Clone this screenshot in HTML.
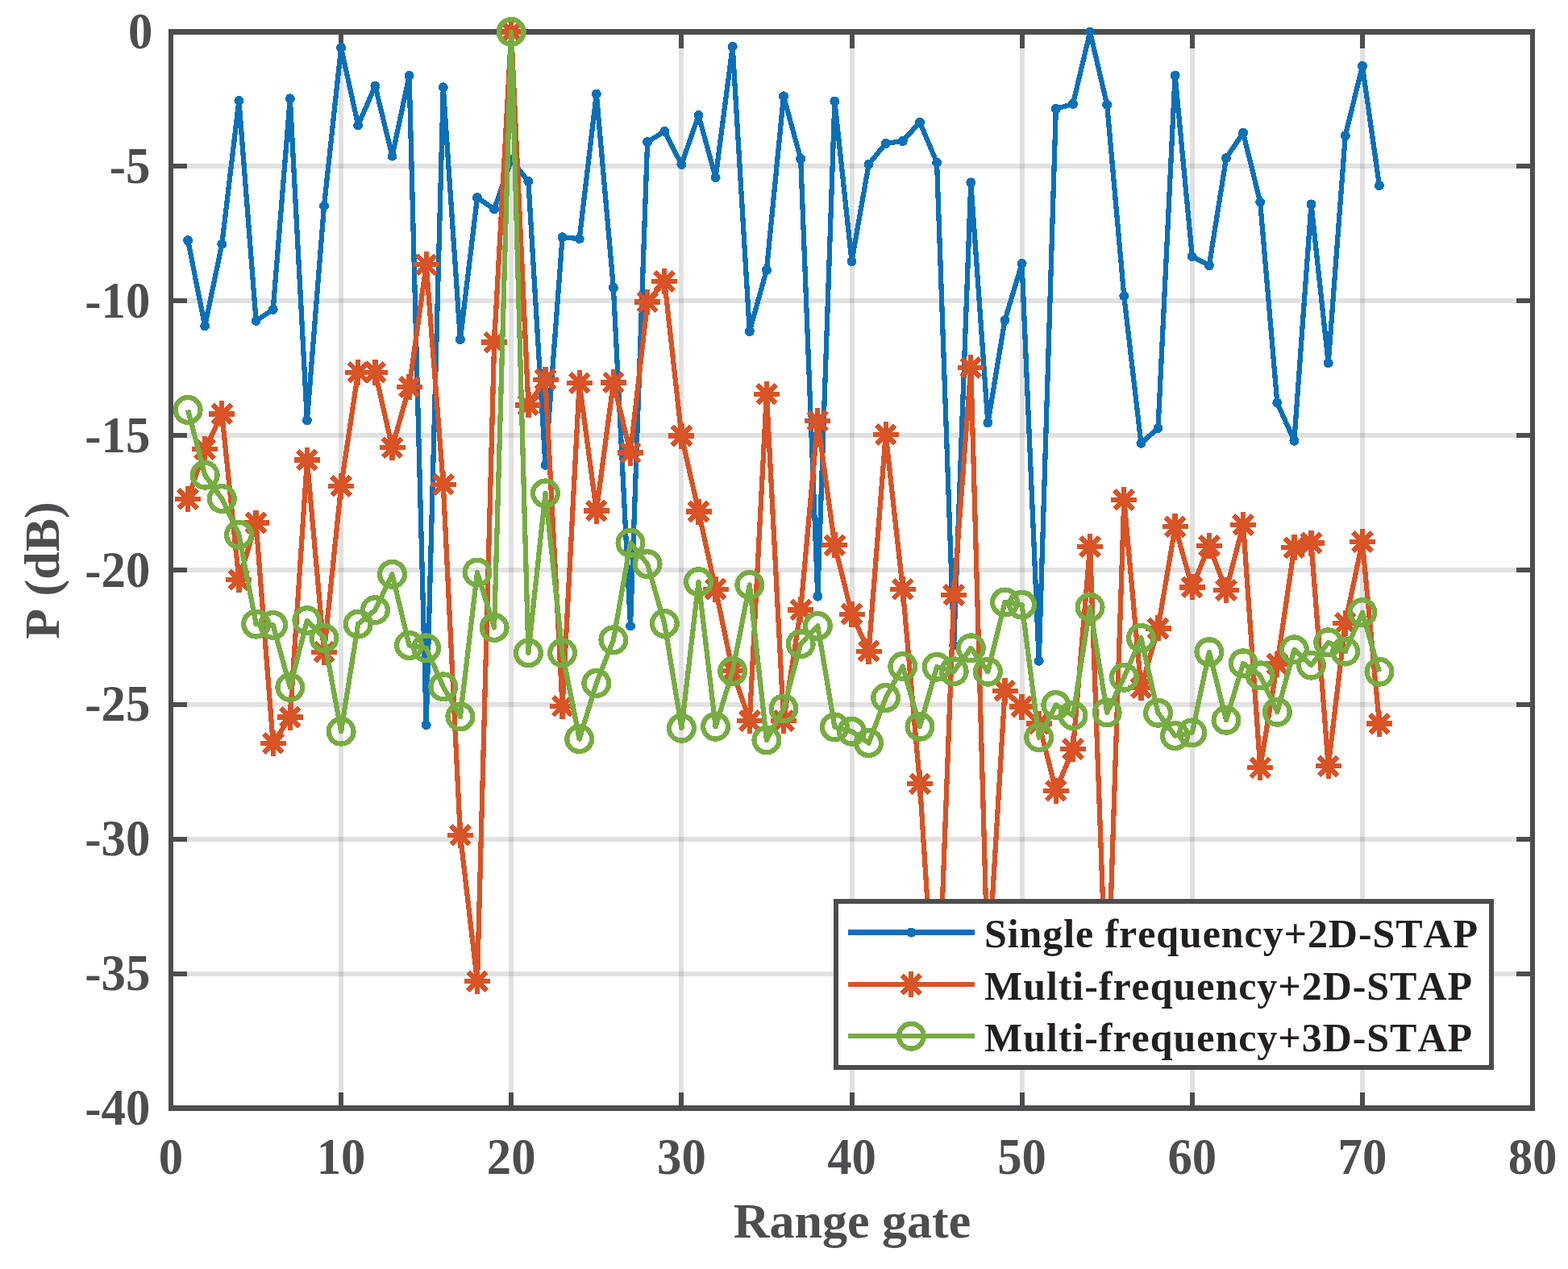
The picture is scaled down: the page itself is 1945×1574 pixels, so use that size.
<!DOCTYPE html>
<html lang="en">
<head>
<meta charset="utf-8">
<title>P (dB) versus Range gate</title>
<style>
html,body{margin:0;padding:0;background:#fff;}
body{width:1945px;height:1574px;overflow:hidden;}
svg{display:block;}
text{font-family:"Liberation Serif",serif;font-weight:bold;font-kerning:none;}
.tick{font-size:62px;fill:#4d4d4f;}
.lab{font-size:62px;fill:#4d4d4f;}
.leg{font-size:50px;fill:#231f20;}
</style>
</head>
<body>
<svg width="1945" height="1574" viewBox="0 0 1945 1574" shape-rendering="crispEdges">
<defs>
<clipPath id="clip"><rect x="212" y="36.5" width="1689" height="1338"/></clipPath>
</defs>
<rect width="1945" height="1574" fill="#fff"/>
<g fill="none" stroke="#4d4d4f" stroke-opacity="0.17" stroke-width="6">
<path d="M423.1 39.5 V1374.5"/>
<path d="M634.2 39.5 V1374.5"/>
<path d="M845.4 39.5 V1374.5"/>
<path d="M1056.5 39.5 V1374.5"/>
<path d="M1267.6 39.5 V1374.5"/>
<path d="M1478.8 39.5 V1374.5"/>
<path d="M1689.9 39.5 V1374.5"/>
<path d="M212 206.4 H1901"/>
<path d="M212 373.2 H1901"/>
<path d="M212 540.1 H1901"/>
<path d="M212 707 H1901"/>
<path d="M212 873.9 H1901"/>
<path d="M212 1040.8 H1901"/>
<path d="M212 1207.6 H1901"/>
</g>
<path d="M423.1 1374.5 v-20 M423.1 39.5 v20 M634.2 1374.5 v-20 M634.2 39.5 v20 M845.4 1374.5 v-20 M845.4 39.5 v20 M1056.5 1374.5 v-20 M1056.5 39.5 v20 M1267.6 1374.5 v-20 M1267.6 39.5 v20 M1478.8 1374.5 v-20 M1478.8 39.5 v20 M1689.9 1374.5 v-20 M1689.9 39.5 v20 M212 206.4 h20 M1901 206.4 h-20 M212 373.2 h20 M1901 373.2 h-20 M212 540.1 h20 M1901 540.1 h-20 M212 707 h20 M1901 707 h-20 M212 873.9 h20 M1901 873.9 h-20 M212 1040.8 h20 M1901 1040.8 h-20 M212 1207.6 h20 M1901 1207.6 h-20" fill="none" stroke="#4d4d4f" stroke-width="6"/>
<path fill="#4d4d4f" fill-rule="evenodd" d="M209 36H1904V1378H209Z M215 43H1898V1371H215Z"/>
<polyline points="233.1,298.2 254.2,404.3 275.3,302.8 296.4,124.9 317.6,397.9 338.7,383.9 359.8,122.3 380.9,521.4 402,255.4 423.1,59.2 444.2,155.3 465.4,106.6 486.5,193.7 507.6,93.9 528.7,899.2 549.8,108.3 570.9,421 592,245.1 613.1,259.4 634.2,198 655.4,225.1 676.5,576.8 697.6,294.2 718.7,296.2 739.8,116.6 760.9,356.9 782,776.4 803.1,176 824.3,163 845.4,204 866.5,143 887.6,220.1 908.7,57.9 929.8,411 950.9,334.9 972,119.3 993.2,197 1014.3,739.7 1035.4,125.6 1056.5,324.2 1077.6,203.7 1098.7,178 1119.8,175 1141,151.6 1162.1,201.7 1183.2,800.5 1204.3,226.4 1225.4,524.4 1246.5,397.3 1267.6,326.9 1288.7,819.8 1309.8,135 1331,128.9 1352.1,39.5 1373.2,129.9 1394.3,367.2 1415.4,549.8 1436.5,531.1 1457.6,93.6 1478.8,318.2 1499.9,329.2 1521,196 1542.1,164.7 1563.2,250.8 1584.3,499.7 1605.4,546.8 1626.5,253.4 1647.7,450.3 1668.8,168.3 1689.9,81.9 1711,230.1" fill="none" stroke="#0b70b8" stroke-width="6.25" stroke-linejoin="round" stroke-linecap="butt" clip-path="url(#clip)"/>
<g fill="#0b70b8"><circle cx="233.1" cy="298.2" r="6"/><circle cx="254.2" cy="404.3" r="6"/><circle cx="275.3" cy="302.8" r="6"/><circle cx="296.4" cy="124.9" r="6"/><circle cx="317.6" cy="397.9" r="6"/><circle cx="338.7" cy="383.9" r="6"/><circle cx="359.8" cy="122.3" r="6"/><circle cx="380.9" cy="521.4" r="6"/><circle cx="402" cy="255.4" r="6"/><circle cx="423.1" cy="59.2" r="6"/><circle cx="444.2" cy="155.3" r="6"/><circle cx="465.4" cy="106.6" r="6"/><circle cx="486.5" cy="193.7" r="6"/><circle cx="507.6" cy="93.9" r="6"/><circle cx="528.7" cy="899.2" r="6"/><circle cx="549.8" cy="108.3" r="6"/><circle cx="570.9" cy="421" r="6"/><circle cx="592" cy="245.1" r="6"/><circle cx="613.1" cy="259.4" r="6"/><circle cx="634.2" cy="198" r="6"/><circle cx="655.4" cy="225.1" r="6"/><circle cx="676.5" cy="576.8" r="6"/><circle cx="697.6" cy="294.2" r="6"/><circle cx="718.7" cy="296.2" r="6"/><circle cx="739.8" cy="116.6" r="6"/><circle cx="760.9" cy="356.9" r="6"/><circle cx="782" cy="776.4" r="6"/><circle cx="803.1" cy="176" r="6"/><circle cx="824.3" cy="163" r="6"/><circle cx="845.4" cy="204" r="6"/><circle cx="866.5" cy="143" r="6"/><circle cx="887.6" cy="220.1" r="6"/><circle cx="908.7" cy="57.9" r="6"/><circle cx="929.8" cy="411" r="6"/><circle cx="950.9" cy="334.9" r="6"/><circle cx="972" cy="119.3" r="6"/><circle cx="993.2" cy="197" r="6"/><circle cx="1014.3" cy="739.7" r="6"/><circle cx="1035.4" cy="125.6" r="6"/><circle cx="1056.5" cy="324.2" r="6"/><circle cx="1077.6" cy="203.7" r="6"/><circle cx="1098.7" cy="178" r="6"/><circle cx="1119.8" cy="175" r="6"/><circle cx="1141" cy="151.6" r="6"/><circle cx="1162.1" cy="201.7" r="6"/><circle cx="1183.2" cy="800.5" r="6"/><circle cx="1204.3" cy="226.4" r="6"/><circle cx="1225.4" cy="524.4" r="6"/><circle cx="1246.5" cy="397.3" r="6"/><circle cx="1267.6" cy="326.9" r="6"/><circle cx="1288.7" cy="819.8" r="6"/><circle cx="1309.8" cy="135" r="6"/><circle cx="1331" cy="128.9" r="6"/><circle cx="1352.1" cy="39.5" r="6"/><circle cx="1373.2" cy="129.9" r="6"/><circle cx="1394.3" cy="367.2" r="6"/><circle cx="1415.4" cy="549.8" r="6"/><circle cx="1436.5" cy="531.1" r="6"/><circle cx="1457.6" cy="93.6" r="6"/><circle cx="1478.8" cy="318.2" r="6"/><circle cx="1499.9" cy="329.2" r="6"/><circle cx="1521" cy="196" r="6"/><circle cx="1542.1" cy="164.7" r="6"/><circle cx="1563.2" cy="250.8" r="6"/><circle cx="1584.3" cy="499.7" r="6"/><circle cx="1605.4" cy="546.8" r="6"/><circle cx="1626.5" cy="253.4" r="6"/><circle cx="1647.7" cy="450.3" r="6"/><circle cx="1668.8" cy="168.3" r="6"/><circle cx="1689.9" cy="81.9" r="6"/><circle cx="1711" cy="230.1" r="6"/></g>
<polyline points="233.1,618.9 254.2,557.1 275.3,513.4 296.4,719 317.6,648.6 338.7,921.9 359.8,889.6 380.9,570.5 402,808.8 423.1,602.9 444.2,461.7 465.4,461.7 486.5,555.1 507.6,480.1 528.7,328.2 549.8,600.9 570.9,1035.7 592,1217.3 613.1,424.6 634.2,39.5 655.4,502.4 676.5,470.7 697.6,875.9 718.7,475 739.8,633.6 760.9,474.4 782,561.5 803.1,374.6 824.3,348.9 845.4,540.5 866.5,634.6 887.6,730.7 908.7,832.2 929.8,893.9 950.9,488.7 972,893.9 993.2,756.4 1014.3,522.1 1035.4,676.3 1056.5,761.7 1077.6,807.8 1098.7,539.1 1119.8,730.7 1141,972.3 1162.1,1301.1 1183.2,738 1204.3,456 1225.4,1207.6 1246.5,856.9 1267.6,876.5 1288.7,897.6 1309.8,980.7 1331,928.9 1352.1,678 1373.2,1261 1394.3,619.9 1415.4,853.2 1436.5,779.4 1457.6,653.3 1478.8,728.4 1499.9,677 1521,732 1542.1,650.9 1563.2,952.3 1584.3,823.5 1605.4,679.3 1626.5,673.6 1647.7,950.3 1668.8,772.7 1689.9,672 1711,897.6" fill="none" stroke="#d85325" stroke-width="6.25" stroke-linejoin="round" stroke-linecap="butt" clip-path="url(#clip)"/>
<path d="M217.1 618.9h32 M233.1 602.9v32 M221.5 607.3l23.2 23.2 M221.5 630.5l23.2 -23.2 M238.2 557.1h32 M254.2 541.1v32 M242.6 545.5l23.2 23.2 M242.6 568.7l23.2 -23.2 M259.3 513.4h32 M275.3 497.4v32 M263.7 501.8l23.2 23.2 M263.7 525l23.2 -23.2 M280.4 719h32 M296.4 703v32 M284.8 707.4l23.2 23.2 M284.8 730.6l23.2 -23.2 M301.6 648.6h32 M317.6 632.6v32 M306 637l23.2 23.2 M306 660.2l23.2 -23.2 M322.7 921.9h32 M338.7 905.9v32 M327.1 910.3l23.2 23.2 M327.1 933.5l23.2 -23.2 M343.8 889.6h32 M359.8 873.6v32 M348.2 878l23.2 23.2 M348.2 901.2l23.2 -23.2 M364.9 570.5h32 M380.9 554.5v32 M369.3 558.9l23.2 23.2 M369.3 582.1l23.2 -23.2 M386 808.8h32 M402 792.8v32 M390.4 797.2l23.2 23.2 M390.4 820.4l23.2 -23.2 M407.1 602.9h32 M423.1 586.9v32 M411.5 591.3l23.2 23.2 M411.5 614.5l23.2 -23.2 M428.2 461.7h32 M444.2 445.7v32 M432.6 450.1l23.2 23.2 M432.6 473.3l23.2 -23.2 M449.4 461.7h32 M465.4 445.7v32 M453.8 450.1l23.2 23.2 M453.8 473.3l23.2 -23.2 M470.5 555.1h32 M486.5 539.1v32 M474.9 543.5l23.2 23.2 M474.9 566.7l23.2 -23.2 M491.6 480.1h32 M507.6 464.1v32 M496 468.4l23.2 23.2 M496 491.7l23.2 -23.2 M512.7 328.2h32 M528.7 312.2v32 M517.1 316.6l23.2 23.2 M517.1 339.8l23.2 -23.2 M533.8 600.9h32 M549.8 584.9v32 M538.2 589.3l23.2 23.2 M538.2 612.5l23.2 -23.2 M554.9 1035.7h32 M570.9 1019.7v32 M559.3 1024.1l23.2 23.2 M559.3 1047.3l23.2 -23.2 M576 1217.3h32 M592 1201.3v32 M580.4 1205.7l23.2 23.2 M580.4 1228.9l23.2 -23.2 M597.1 424.6h32 M613.1 408.6v32 M601.5 413l23.2 23.2 M601.5 436.2l23.2 -23.2 M618.2 39.5h32 M634.2 23.5v32 M622.6 27.9l23.2 23.2 M622.6 51.1l23.2 -23.2 M639.4 502.4h32 M655.4 486.4v32 M643.8 490.8l23.2 23.2 M643.8 514l23.2 -23.2 M660.5 470.7h32 M676.5 454.7v32 M664.9 459.1l23.2 23.2 M664.9 482.3l23.2 -23.2 M681.6 875.9h32 M697.6 859.9v32 M686 864.3l23.2 23.2 M686 887.5l23.2 -23.2 M702.7 475h32 M718.7 459v32 M707.1 463.4l23.2 23.2 M707.1 486.6l23.2 -23.2 M723.8 633.6h32 M739.8 617.6v32 M728.2 622l23.2 23.2 M728.2 645.2l23.2 -23.2 M744.9 474.4h32 M760.9 458.4v32 M749.3 462.8l23.2 23.2 M749.3 486l23.2 -23.2 M766 561.5h32 M782 545.5v32 M770.4 549.9l23.2 23.2 M770.4 573.1l23.2 -23.2 M787.1 374.6h32 M803.1 358.6v32 M791.5 363l23.2 23.2 M791.5 386.2l23.2 -23.2 M808.3 348.9h32 M824.3 332.9v32 M812.7 337.3l23.2 23.2 M812.7 360.5l23.2 -23.2 M829.4 540.5h32 M845.4 524.5v32 M833.8 528.9l23.2 23.2 M833.8 552.1l23.2 -23.2 M850.5 634.6h32 M866.5 618.6v32 M854.9 623l23.2 23.2 M854.9 646.2l23.2 -23.2 M871.6 730.7h32 M887.6 714.7v32 M876 719.1l23.2 23.2 M876 742.3l23.2 -23.2 M892.7 832.2h32 M908.7 816.2v32 M897.1 820.6l23.2 23.2 M897.1 843.8l23.2 -23.2 M913.8 893.9h32 M929.8 877.9v32 M918.2 882.3l23.2 23.2 M918.2 905.5l23.2 -23.2 M934.9 488.7h32 M950.9 472.7v32 M939.3 477.1l23.2 23.2 M939.3 500.3l23.2 -23.2 M956 893.9h32 M972 877.9v32 M960.4 882.3l23.2 23.2 M960.4 905.5l23.2 -23.2 M977.2 756.4h32 M993.2 740.4v32 M981.6 744.8l23.2 23.2 M981.6 768l23.2 -23.2 M998.3 522.1h32 M1014.3 506.1v32 M1002.7 510.5l23.2 23.2 M1002.7 533.7l23.2 -23.2 M1019.4 676.3h32 M1035.4 660.3v32 M1023.8 664.7l23.2 23.2 M1023.8 687.9l23.2 -23.2 M1040.5 761.7h32 M1056.5 745.7v32 M1044.9 750.1l23.2 23.2 M1044.9 773.3l23.2 -23.2 M1061.6 807.8h32 M1077.6 791.8v32 M1066 796.2l23.2 23.2 M1066 819.4l23.2 -23.2 M1082.7 539.1h32 M1098.7 523.1v32 M1087.1 527.5l23.2 23.2 M1087.1 550.7l23.2 -23.2 M1103.8 730.7h32 M1119.8 714.7v32 M1108.2 719.1l23.2 23.2 M1108.2 742.3l23.2 -23.2 M1125 972.3h32 M1141 956.3v32 M1129.4 960.7l23.2 23.2 M1129.4 983.9l23.2 -23.2 M1146.1 1301.1h32 M1162.1 1285.1v32 M1150.5 1289.5l23.2 23.2 M1150.5 1312.7l23.2 -23.2 M1167.2 738h32 M1183.2 722v32 M1171.6 726.4l23.2 23.2 M1171.6 749.6l23.2 -23.2 M1188.3 456h32 M1204.3 440v32 M1192.7 444.4l23.2 23.2 M1192.7 467.6l23.2 -23.2 M1209.4 1207.6h32 M1225.4 1191.6v32 M1213.8 1196l23.2 23.2 M1213.8 1219.2l23.2 -23.2 M1230.5 856.9h32 M1246.5 840.9v32 M1234.9 845.3l23.2 23.2 M1234.9 868.5l23.2 -23.2 M1251.6 876.5h32 M1267.6 860.5v32 M1256 864.9l23.2 23.2 M1256 888.1l23.2 -23.2 M1272.7 897.6h32 M1288.7 881.6v32 M1277.1 886l23.2 23.2 M1277.1 909.2l23.2 -23.2 M1293.8 980.7h32 M1309.8 964.7v32 M1298.2 969.1l23.2 23.2 M1298.2 992.3l23.2 -23.2 M1315 928.9h32 M1331 912.9v32 M1319.4 917.3l23.2 23.2 M1319.4 940.5l23.2 -23.2 M1336.1 678h32 M1352.1 662v32 M1340.5 666.4l23.2 23.2 M1340.5 689.6l23.2 -23.2 M1357.2 1261h32 M1373.2 1245v32 M1361.6 1249.4l23.2 23.2 M1361.6 1272.6l23.2 -23.2 M1378.3 619.9h32 M1394.3 603.9v32 M1382.7 608.3l23.2 23.2 M1382.7 631.5l23.2 -23.2 M1399.4 853.2h32 M1415.4 837.2v32 M1403.8 841.6l23.2 23.2 M1403.8 864.8l23.2 -23.2 M1420.5 779.4h32 M1436.5 763.4v32 M1424.9 767.8l23.2 23.2 M1424.9 791l23.2 -23.2 M1441.6 653.3h32 M1457.6 637.3v32 M1446 641.7l23.2 23.2 M1446 664.9l23.2 -23.2 M1462.8 728.4h32 M1478.8 712.4v32 M1467.2 716.8l23.2 23.2 M1467.2 740l23.2 -23.2 M1483.9 677h32 M1499.9 661v32 M1488.3 665.4l23.2 23.2 M1488.3 688.6l23.2 -23.2 M1505 732h32 M1521 716v32 M1509.4 720.4l23.2 23.2 M1509.4 743.6l23.2 -23.2 M1526.1 650.9h32 M1542.1 634.9v32 M1530.5 639.3l23.2 23.2 M1530.5 662.5l23.2 -23.2 M1547.2 952.3h32 M1563.2 936.3v32 M1551.6 940.7l23.2 23.2 M1551.6 963.9l23.2 -23.2 M1568.3 823.5h32 M1584.3 807.5v32 M1572.7 811.9l23.2 23.2 M1572.7 835.1l23.2 -23.2 M1589.4 679.3h32 M1605.4 663.3v32 M1593.8 667.7l23.2 23.2 M1593.8 690.9l23.2 -23.2 M1610.5 673.6h32 M1626.5 657.6v32 M1614.9 662l23.2 23.2 M1614.9 685.2l23.2 -23.2 M1631.7 950.3h32 M1647.7 934.3v32 M1636.1 938.7l23.2 23.2 M1636.1 961.9l23.2 -23.2 M1652.8 772.7h32 M1668.8 756.7v32 M1657.2 761.1l23.2 23.2 M1657.2 784.3l23.2 -23.2 M1673.9 672h32 M1689.9 656v32 M1678.3 660.4l23.2 23.2 M1678.3 683.6l23.2 -23.2 M1695 897.6h32 M1711 881.6v32 M1699.4 886l23.2 23.2 M1699.4 909.2l23.2 -23.2" fill="none" stroke="#d85325" stroke-width="6.25"/>
<polyline points="233.1,508.4 254.2,589.2 275.3,618.6 296.4,663.3 317.6,774.1 338.7,775.4 359.8,852.5 380.9,769.7 402,791.4 423.1,907.2 444.2,774.1 465.4,756.7 486.5,712.3 507.6,800.5 528.7,803.8 549.8,851.8 570.9,888.9 592,710 613.1,778.4 634.2,39.5 655.4,809.8 676.5,611.9 697.6,809.8 718.7,916.6 739.8,847.5 760.9,793.8 782,673.3 803.1,699.7 824.3,773.4 845.4,903.2 866.5,721.7 887.6,901.2 908.7,832.5 929.8,725.4 950.9,917.9 972,878.9 993.2,798.8 1014.3,776.4 1035.4,901.9 1056.5,907.2 1077.6,921.6 1098.7,865.5 1119.8,826.5 1141,901.2 1162.1,827.2 1183.2,832.8 1204.3,803.8 1225.4,833.2 1246.5,747 1267.6,750.1 1288.7,914.6 1309.8,874.5 1331,887.6 1352.1,753.1 1373.2,883.9 1394.3,840.2 1415.4,791.4 1436.5,884.2 1457.6,912.6 1478.8,908.9 1499.9,808.8 1521,893.2 1542.1,822.8 1563.2,837.8 1584.3,883.2 1605.4,805.8 1626.5,825.1 1647.7,796.8 1668.8,808.1 1689.9,759.7 1711,833.2" fill="none" stroke="#77ac42" stroke-width="6.25" stroke-linejoin="round" stroke-linecap="butt" clip-path="url(#clip)"/>
<g fill="none" stroke="#77ac42" stroke-width="6.25"><circle cx="233.1" cy="508.4" r="15.4"/><circle cx="254.2" cy="589.2" r="15.4"/><circle cx="275.3" cy="618.6" r="15.4"/><circle cx="296.4" cy="663.3" r="15.4"/><circle cx="317.6" cy="774.1" r="15.4"/><circle cx="338.7" cy="775.4" r="15.4"/><circle cx="359.8" cy="852.5" r="15.4"/><circle cx="380.9" cy="769.7" r="15.4"/><circle cx="402" cy="791.4" r="15.4"/><circle cx="423.1" cy="907.2" r="15.4"/><circle cx="444.2" cy="774.1" r="15.4"/><circle cx="465.4" cy="756.7" r="15.4"/><circle cx="486.5" cy="712.3" r="15.4"/><circle cx="507.6" cy="800.5" r="15.4"/><circle cx="528.7" cy="803.8" r="15.4"/><circle cx="549.8" cy="851.8" r="15.4"/><circle cx="570.9" cy="888.9" r="15.4"/><circle cx="592" cy="710" r="15.4"/><circle cx="613.1" cy="778.4" r="15.4"/><circle cx="634.2" cy="39.5" r="15.4"/><circle cx="655.4" cy="809.8" r="15.4"/><circle cx="676.5" cy="611.9" r="15.4"/><circle cx="697.6" cy="809.8" r="15.4"/><circle cx="718.7" cy="916.6" r="15.4"/><circle cx="739.8" cy="847.5" r="15.4"/><circle cx="760.9" cy="793.8" r="15.4"/><circle cx="782" cy="673.3" r="15.4"/><circle cx="803.1" cy="699.7" r="15.4"/><circle cx="824.3" cy="773.4" r="15.4"/><circle cx="845.4" cy="903.2" r="15.4"/><circle cx="866.5" cy="721.7" r="15.4"/><circle cx="887.6" cy="901.2" r="15.4"/><circle cx="908.7" cy="832.5" r="15.4"/><circle cx="929.8" cy="725.4" r="15.4"/><circle cx="950.9" cy="917.9" r="15.4"/><circle cx="972" cy="878.9" r="15.4"/><circle cx="993.2" cy="798.8" r="15.4"/><circle cx="1014.3" cy="776.4" r="15.4"/><circle cx="1035.4" cy="901.9" r="15.4"/><circle cx="1056.5" cy="907.2" r="15.4"/><circle cx="1077.6" cy="921.6" r="15.4"/><circle cx="1098.7" cy="865.5" r="15.4"/><circle cx="1119.8" cy="826.5" r="15.4"/><circle cx="1141" cy="901.2" r="15.4"/><circle cx="1162.1" cy="827.2" r="15.4"/><circle cx="1183.2" cy="832.8" r="15.4"/><circle cx="1204.3" cy="803.8" r="15.4"/><circle cx="1225.4" cy="833.2" r="15.4"/><circle cx="1246.5" cy="747" r="15.4"/><circle cx="1267.6" cy="750.1" r="15.4"/><circle cx="1288.7" cy="914.6" r="15.4"/><circle cx="1309.8" cy="874.5" r="15.4"/><circle cx="1331" cy="887.6" r="15.4"/><circle cx="1352.1" cy="753.1" r="15.4"/><circle cx="1373.2" cy="883.9" r="15.4"/><circle cx="1394.3" cy="840.2" r="15.4"/><circle cx="1415.4" cy="791.4" r="15.4"/><circle cx="1436.5" cy="884.2" r="15.4"/><circle cx="1457.6" cy="912.6" r="15.4"/><circle cx="1478.8" cy="908.9" r="15.4"/><circle cx="1499.9" cy="808.8" r="15.4"/><circle cx="1521" cy="893.2" r="15.4"/><circle cx="1542.1" cy="822.8" r="15.4"/><circle cx="1563.2" cy="837.8" r="15.4"/><circle cx="1584.3" cy="883.2" r="15.4"/><circle cx="1605.4" cy="805.8" r="15.4"/><circle cx="1626.5" cy="825.1" r="15.4"/><circle cx="1647.7" cy="796.8" r="15.4"/><circle cx="1668.8" cy="808.1" r="15.4"/><circle cx="1689.9" cy="759.7" r="15.4"/><circle cx="1711" cy="833.2" r="15.4"/></g>
<rect x="1037" y="1118.2" width="813" height="205.8" fill="#fff" stroke="#4d4d4f" stroke-width="6"/>
<path d="M1051.8 1156.6H1209" stroke="#0b70b8" stroke-width="6.25" fill="none"/><g fill="#0b70b8"><circle cx="1130.3" cy="1156.6" r="6"/></g><text class="leg" x="1221" y="1175.2" textLength="612" lengthAdjust="spacing">Single frequency+2D-STAP</text>
<path d="M1051.8 1221.1H1209" stroke="#d85325" stroke-width="6.25" fill="none"/><path d="M1114.3 1221.1h32 M1130.3 1205.1v32 M1118.7 1209.5l23.2 23.2 M1118.7 1232.7l23.2 -23.2" fill="none" stroke="#d85325" stroke-width="6.25"/><text class="leg" x="1221" y="1239.9" textLength="605" lengthAdjust="spacing">Multi-frequency+2D-STAP</text>
<path d="M1051.8 1285.2H1209" stroke="#77ac42" stroke-width="6.25" fill="none"/><g fill="none" stroke="#77ac42" stroke-width="6.25"><circle cx="1130.3" cy="1285.2" r="15.4"/></g><text class="leg" x="1221" y="1303.8" textLength="605" lengthAdjust="spacing">Multi-frequency+3D-STAP</text>
<text class="tick" transform="translate(212 1455.5) scale(0.98 1.025)" text-anchor="middle">0</text>
<text class="tick" transform="translate(423.1 1455.5) scale(0.98 1.025)" text-anchor="middle">10</text>
<text class="tick" transform="translate(634.2 1455.5) scale(0.98 1.025)" text-anchor="middle">20</text>
<text class="tick" transform="translate(845.4 1455.5) scale(0.98 1.025)" text-anchor="middle">30</text>
<text class="tick" transform="translate(1056.5 1455.5) scale(0.98 1.025)" text-anchor="middle">40</text>
<text class="tick" transform="translate(1267.6 1455.5) scale(0.98 1.025)" text-anchor="middle">50</text>
<text class="tick" transform="translate(1478.8 1455.5) scale(0.98 1.025)" text-anchor="middle">60</text>
<text class="tick" transform="translate(1689.9 1455.5) scale(0.98 1.025)" text-anchor="middle">70</text>
<text class="tick" transform="translate(1901 1455.5) scale(0.98 1.025)" text-anchor="middle">80</text>
<text class="tick" transform="translate(189.3 60) scale(0.98 1.025)" text-anchor="end">0</text>
<text class="tick" transform="translate(186.3 226.9) scale(0.98 1.025)" text-anchor="end">-5</text>
<text class="tick" transform="translate(186.3 393.8) scale(0.98 1.025)" text-anchor="end">-10</text>
<text class="tick" transform="translate(186.3 560.6) scale(0.98 1.025)" text-anchor="end">-15</text>
<text class="tick" transform="translate(186.3 727.5) scale(0.98 1.025)" text-anchor="end">-20</text>
<text class="tick" transform="translate(186.3 894.4) scale(0.98 1.025)" text-anchor="end">-25</text>
<text class="tick" transform="translate(186.3 1061.2) scale(0.98 1.025)" text-anchor="end">-30</text>
<text class="tick" transform="translate(186.3 1228.1) scale(0.98 1.025)" text-anchor="end">-35</text>
<text class="tick" transform="translate(186.3 1395) scale(0.98 1.025)" text-anchor="end">-40</text>
<text class="lab" x="1057" y="1535" text-anchor="middle">Range gate</text>
<text class="lab" transform="translate(72.5 707.6) rotate(-90)" text-anchor="middle">P (dB)</text>
</svg>
</body>
</html>
